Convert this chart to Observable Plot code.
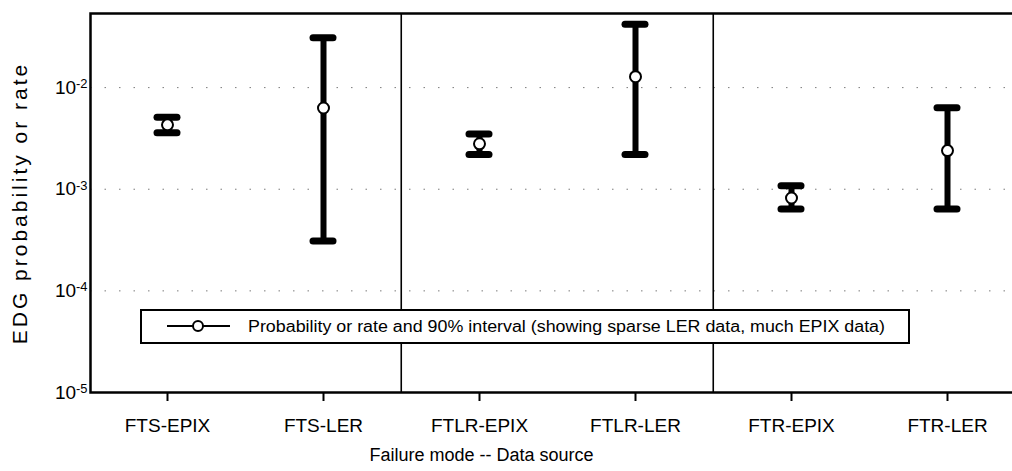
<!DOCTYPE html>
<html><head><meta charset="utf-8">
<script src="https://cdn.jsdelivr.net/npm/d3@7"></script>
<script src="https://cdn.jsdelivr.net/npm/@observablehq/plot@0.6"></script>
<style>
html,body{margin:0;padding:0;background:#fff;overflow:hidden}
#wrap{position:relative;width:1012px;height:471px;overflow:hidden}
#legend{position:absolute;left:140px;top:309px;}
</style></head><body><div id="wrap"></div>
<script>
const categories = ["FTS-EPIX","FTS-LER","FTLR-EPIX","FTLR-LER","FTR-EPIX","FTR-LER"];
const estimate = [4.3e-3, 6.3e-3, 2.8e-3, 1.28e-2, 8.2e-4, 2.4e-3];
const lower    = [3.6e-3, 3.1e-4, 2.2e-3, 2.2e-3, 6.4e-4, 6.4e-4];
const upper    = [5.1e-3, 3.1e-2, 3.5e-3, 4.2e-2, 1.08e-3, 6.35e-3];
const yTicks = [1e-5, 1e-4, 1e-3, 1e-2];
const gridValues = [1e-4, 1e-3, 1e-2];
const separators = ["FTLR-EPIX", "FTR-EPIX"];
const yLabel = "EDG probability or rate";
const xLabel = "Failure mode -- Data source";
const legendLabel = "Probability or rate and 90% interval (showing sparse LER data, much EPIX data)";

const data = categories.map((c, i) => ({cat: c, est: estimate[i], lo: lower[i], hi: upper[i]}));
const fmt = d => "10^" + Math.round(Math.log10(d));
const font = "'Liberation Sans', Arial, sans-serif";

const plot = Plot.plot({
  width: 1012, height: 471,
  marginLeft: 90, marginRight: -30, marginTop: 13, marginBottom: 79,
  style: {fontFamily: font, color: "#000", background: "#fff"},
  x: {type: "band", domain: categories, range: [87, 1026], padding: 0, label: null},
  y: {type: "log", domain: [1e-5, 0.0536], label: null},
  marks: [
    Plot.ruleY(gridValues, {stroke: "#444", strokeWidth: 1, strokeDasharray: "1.5,13", strokeOpacity: 0.7}),
    Plot.ruleX(separators, {x: d => d, dx: -78.25, stroke: "#000", strokeWidth: 1.6}),
    Plot.frame({stroke: "#000", strokeWidth: 2.5}),
    Plot.axisY({ticks: yTicks, tickFormat: fmt, tickSize: 0, tickPadding: 3, fontSize: 19, label: null}),
    Plot.axisX({tickSize: 9, tickPadding: 17, fontSize: 19, strokeWidth: 2, label: null}),
    Plot.ruleX(data, {x: "cat", y1: "lo", y2: "hi", stroke: "#000", strokeWidth: 6}),
    Plot.tickY(data, {x: "cat", y: "lo", insetLeft: 68, insetRight: 68, stroke: "#000", strokeWidth: 7, strokeLinecap: "round"}),
    Plot.tickY(data, {x: "cat", y: "hi", insetLeft: 68, insetRight: 68, stroke: "#000", strokeWidth: 7, strokeLinecap: "round"}),
    Plot.dot(data, {x: "cat", y: "est", r: 5.5, fill: "#fff", stroke: "#000", strokeWidth: 2}),
    Plot.text([yLabel], {frameAnchor: "left", textAnchor: "middle", lineAnchor: "middle", rotate: -90, dx: -70, fontSize: 21, fill: "#000"}),
    Plot.text([xLabel], {frameAnchor: "bottom", textAnchor: "middle", lineAnchor: "middle", dx: -85, dy: 63, fontSize: 18, fill: "#000"})
  ]
});
const wrap = document.getElementById("wrap");
wrap.appendChild(plot);

// widen the y label letter spacing like the reference
d3.select(plot).selectAll("text").filter(function() { return this.textContent === yLabel; })
  .style("letter-spacing", "3px");

// superscript exponents on y tick labels
d3.select(plot).selectAll("text").filter(function() { return /^10\^-?\d+$/.test(this.textContent); })
  .each(function() {
    const exp = this.textContent.split("^")[1];
    const t = d3.select(this);
    t.text("10");
    t.append("tspan").attr("dy", "-0.45em").attr("font-size", "0.68em").text(exp);
  });

// legend box overlay
const leg = d3.select(wrap).append("div").attr("id", "legend")
  .append("svg").attr("width", 771).attr("height", 36);
leg.append("rect").attr("x", 1).attr("y", 1).attr("width", 768).attr("height", 33)
  .attr("fill", "#fff").attr("stroke", "#000").attr("stroke-width", 2);
leg.append("line").attr("x1", 27).attr("x2", 90).attr("y1", 17).attr("y2", 17)
  .attr("stroke", "#000").attr("stroke-width", 2);
leg.append("circle").attr("cx", 58).attr("cy", 17).attr("r", 5)
  .attr("fill", "#fff").attr("stroke", "#000").attr("stroke-width", 2);
leg.append("text").attr("x", 108).attr("y", 17).attr("dy", "0.35em")
  .attr("font-family", font).attr("font-size", 16)
  .attr("textLength", 637).attr("lengthAdjust", "spacingAndGlyphs")
  .text(legendLabel);
</script></body></html>
